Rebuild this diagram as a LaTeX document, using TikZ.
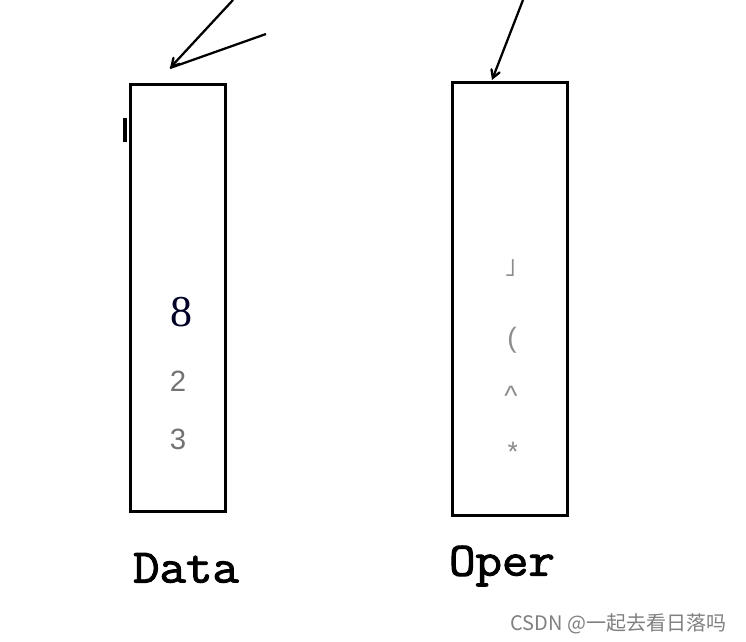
\documentclass[tikz,border=0pt]{standalone}
\usepackage{fontspec}
\usepackage{tikz}
\usetikzlibrary{arrows}
\newfontfamily\monolabel[FakeBold=2]{Latin Modern Mono}
\newfontfamily\serifdigit{Liberation Serif}
\newfontfamily\sansdigit{Liberation Sans}
\newfontfamily\symfont{DejaVu Sans}
\newfontfamily\cjkfont{Noto Sans CJK SC}

\begin{document}
\begin{tikzpicture}[->,>=angle 60,x=0.75pt,y=-0.75pt,
  stack/.style={draw,line width=2.25pt,inner sep=0pt},
  pointer/.style={line width=1.7pt},
  label/.style={font=\monolabel\fontsize{36}{36}\selectfont,
    xscale=1.07,transform shape,inner sep=0pt},
  entry/.style={font=\sansdigit\fontsize{22}{22}\selectfont,text=black!55,inner sep=0pt},
  oper entry/.style={font=\sansdigit\fontsize{21}{21}\selectfont,text=black!45,inner sep=0pt}]

\useasboundingbox[fill=white] (0,0) rectangle (746,642);

\node[stack,minimum width=71.25pt,minimum height=319.5pt] (data) at (177.5,298) {};
\node[stack,minimum width=86.25pt,minimum height=324pt] (oper) at (509.5,299) {};

% what is kept in each stack
\node[font=\serifdigit\fontsize{33}{33}\selectfont,text=black!85!blue] (d8) at (181,312) {8};
\node[entry] (d2) at (178,381) {2};
\node[entry] (d3) at (178,439) {3};

\begin{scope}
  \clip (490,240) rectangle (516,470);
  \node[oper entry,font=\symfont\fontsize{19}{19}\selectfont] (o1) at (510,268) {˩};
  \node[oper entry] (o2) at (512,340) {(};
  \node[oper entry] (o3) at (511,396) {\^{}};
  \node[oper entry] (o4) at (513,452) {*};
\end{scope}

% the two tops
\coordinate (datafrom) at (233,0);
\coordinate (dataside) at (266,34);
\coordinate (datatop) at (170,68);
\coordinate (operfrom) at (523,0);
\coordinate (opertop) at (492,80);

\draw[pointer] (datafrom) -- (datatop);
\draw[pointer,-] (dataside) -- (datatop);
\draw[pointer] (operfrom) -- (opertop);

\draw[-,line width=2.5pt] (125,118) -- (125,142);

\node[label] (dataname) at (186,568) {Data};
\node[label] (opername) at (502,566) {Oper};

\node[font=\cjkfont\fontsize{15}{15}\selectfont,text=black!50,anchor=east] (mark) at (731,624) {CSDN @一起去看日落吗};

\end{tikzpicture}
\end{document}
